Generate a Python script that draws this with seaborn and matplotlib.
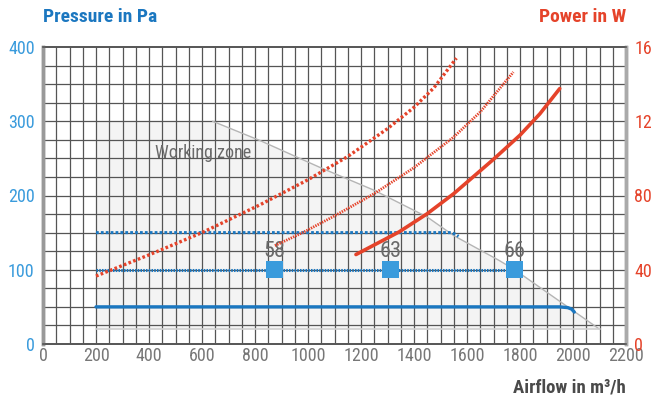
import matplotlib
matplotlib.use("Agg")
import matplotlib.pyplot as plt
from matplotlib import font_manager
import numpy as np
import pandas as pd
import seaborn as sns

sns.set_style("white")
avail = {f.name for f in font_manager.fontManager.ttflist}
FAM = [f for f in ["Liberation Sans Narrow", "Roboto Condensed", "Roboto", "DejaVu Sans"] if f in avail]
plt.rcParams["font.family"] = FAM

BLUE = "#1b77c0"
LBLUE = "#3a9bdc"
RED = "#e5432a"
GREY = "#6a6a6a"

# Pressure curves (Pa) vs airflow (m3/h)
p50_x = [200, 1950, 1980, 1995, 2005]
p50_y = [50, 50, 49, 47, 43]
p100_x = [200, 1780]
p100_y = [100, 100]
p150_x = [200, 1540, 1555, 1568]
p150_y = [150, 150, 148, 145]

# Operating points (sound level labels)
pt_x = [875, 1313, 1781]
pt_y = [100, 100, 100]
pt_lbl = ["58", "63", "66"]

# Power curves (W) vs airflow
w_hi_x = [200, 400, 600, 819, 1000, 1150, 1300, 1400, 1475, 1560]
w_hi_y = [36.6, 48.0, 60.0, 75.0, 88.5, 101.0, 116.0, 127.5, 138.0, 154.0]
w_mid_x = [875, 980, 1100, 1250, 1400, 1550, 1650, 1775]
w_mid_y = [53.0, 60.0, 69.0, 81.0, 95.0, 111.5, 125.0, 146.5]
w_lo_x = [1181, 1344, 1450, 1550, 1700, 1800, 1875, 1950]
w_lo_y = [48.2, 60.4, 70.2, 81.0, 99.5, 112.5, 124.0, 137.6]

# Working zone boundary
zone_x = [640, 819, 1044, 1250, 1450, 1550, 1719, 1780, 2100]
zone_y = [300, 274, 238, 207, 171, 146, 113, 100, 20]

xticks = list(range(0, 2201, 200))
pticks = [0, 100, 200, 300, 400]
wticks = [0, 40, 80, 120, 160]

fig = plt.figure(figsize=(6.51, 4.0), dpi=100)
ax = fig.add_axes([43 / 651, 56 / 400, 583 / 651, 297 / 400])
ax.set_xlim(0, 2200)
ax.set_ylim(0, 400)

# working zone (behind the grid)
poly_x = [200, 200] + zone_x + [200]
poly_y = [20, 300] + zone_y + [20]
ax.fill(poly_x, poly_y, color="#f4f4f4", zorder=0.5, lw=0)

# grid
for gx in np.arange(50, 2200, 50):
    ax.axvline(gx, color="#555555", lw=0.9, zorder=1)
for gy in np.arange(25, 400, 25):
    ax.axhline(gy, color="#555555", lw=0.9, zorder=1)

ax.plot(zone_x, zone_y, color="#b5b5b5", lw=1.0, zorder=3)
ax.plot([200, 2100], [20, 20], color="#d0d0d0", lw=1.2, zorder=3)
ax.text(423, 257, "Working zone", color=GREY, fontsize=13, va="center", ha="left", zorder=4)

df50 = pd.DataFrame({"x": p50_x, "y": p50_y})
df100 = pd.DataFrame({"x": p100_x, "y": p100_y})
df150 = pd.DataFrame({"x": p150_x, "y": p150_y})
sns.lineplot(data=df50, x="x", y="y", ax=ax, color=BLUE, lw=2.4, sort=False, estimator=None, zorder=5)
sns.lineplot(data=df100, x="x", y="y", ax=ax, color=BLUE, lw=2.2, sort=False, estimator=None, zorder=5,
             linestyle=(0, (0.5, 0.4)))
sns.lineplot(data=df150, x="x", y="y", ax=ax, color=BLUE, lw=2.2, sort=False, estimator=None, zorder=5,
             linestyle=(0, (0.9, 0.7)))

dfpt = pd.DataFrame({"x": pt_x, "y": pt_y})
sns.scatterplot(data=dfpt, x="x", y="y", ax=ax, marker="s", s=150, color=LBLUE, edgecolor="none", zorder=6)
for x, y, t in zip(pt_x, pt_y, pt_lbl):
    ax.text(x, y + 10, t, ha="center", va="bottom", color=GREY, fontsize=16, zorder=7)

ax.set_xticks(xticks)
ax.set_yticks(pticks)
ax.set_xlabel("")
ax.set_ylabel("")
ax.tick_params(axis="x", colors="#777777", labelsize=13, length=0, pad=2)
ax.tick_params(axis="y", colors=LBLUE, labelsize=13, length=0, pad=6)

ax2 = ax.twinx()
ax2.set_ylim(0, 160)
dfa = pd.DataFrame({"x": w_hi_x, "y": w_hi_y})
dfb = pd.DataFrame({"x": w_mid_x, "y": w_mid_y})
dfc = pd.DataFrame({"x": w_lo_x, "y": w_lo_y})
sns.lineplot(data=dfa, x="x", y="y", ax=ax2, color=RED, lw=2.4, sort=False, estimator=None,
             linestyle=(0, (0.8, 0.7)))
sns.lineplot(data=dfb, x="x", y="y", ax=ax2, color=RED, lw=2.0, sort=False, estimator=None,
             linestyle=(0, (0.5, 0.4)))
sns.lineplot(data=dfc, x="x", y="y", ax=ax2, color=RED, lw=2.6, sort=False, estimator=None)
ax2.set_yticks(wticks)
ax2.set_ylabel("")
ax2.tick_params(axis="y", colors=RED, labelsize=13, length=0, pad=6)
ax2.set_xlim(0, 2200)

for a in (ax, ax2):
    a.spines["left"].set_color("#999999")
    a.spines["left"].set_linewidth(2.5)
    a.spines["right"].set_color("#aaaaaa")
    a.spines["right"].set_linewidth(2.5)
    a.spines["bottom"].set_color("#555555")
    a.spines["bottom"].set_linewidth(1.2)
    a.spines["top"].set_color("#555555")
    a.spines["top"].set_linewidth(1.2)

fig.text(43 / 651, 1 - 17 / 400, "Pressure in Pa", color=BLUE, fontsize=14, fontweight="bold",
         ha="left", va="center")
fig.text(626 / 651, 1 - 17 / 400, "Power in W", color=RED, fontsize=14, fontweight="bold",
         ha="right", va="center")
fig.text(626 / 651, 1 - 388 / 400, "Airflow in m³/h", color="#4a4a4a", fontsize=13.5, fontweight="bold",
         ha="right", va="center")

fig.savefig("out.png", dpi=100)
